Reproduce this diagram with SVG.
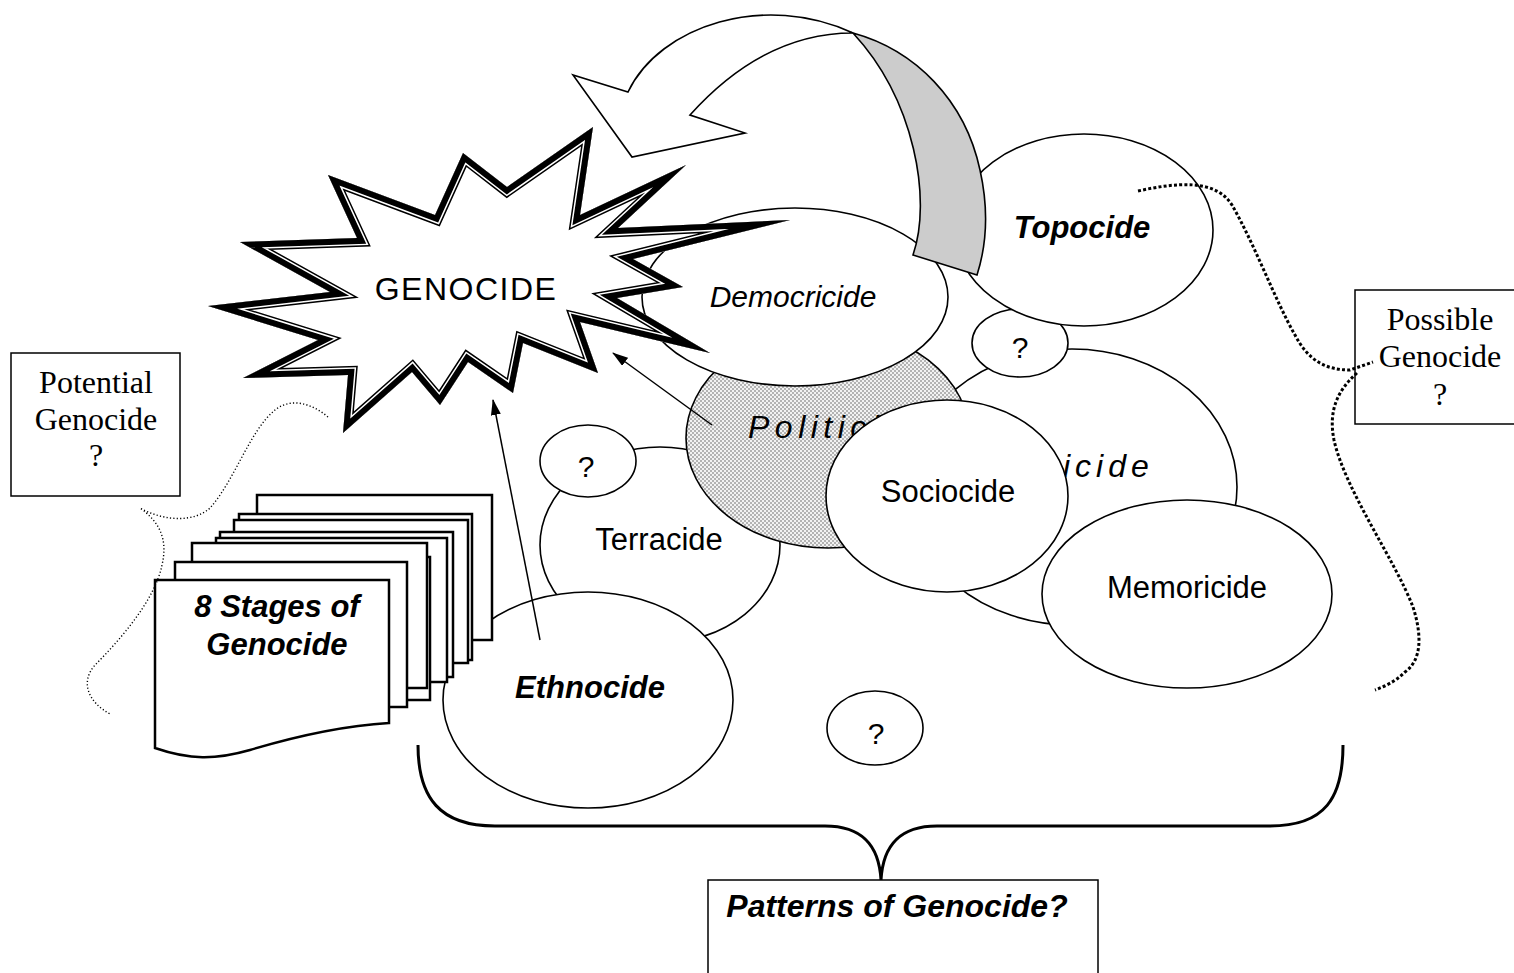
<svg xmlns="http://www.w3.org/2000/svg" width="1514" height="973" viewBox="0 0 1514 973">
<defs>
<style>
.n{fill:#fff;stroke:#000;stroke-width:1.6}
.t{font-family:"Liberation Sans",Arial,sans-serif;font-size:31px;fill:#000;text-anchor:middle}
.bi{font-weight:bold;font-style:italic}
.i{font-style:italic}
.s{font-family:"Liberation Serif","Times New Roman",serif;font-size:32px;text-anchor:middle;fill:#000}
.pg{fill:#fff;stroke:#000;stroke-width:2.5}
.box{fill:#fff;stroke:#000;stroke-width:1.5}
.c{stroke:#000;stroke-width:1.5;fill:none;marker-end:url(#ah)}
.dt{fill:none;stroke:#000}
</style>
<pattern id="dots" width="4" height="4" patternUnits="userSpaceOnUse"><rect width="4" height="4" fill="#f2f2f2"/><circle cx="1" cy="1" r="0.75" fill="#555"/><circle cx="3" cy="3" r="0.75" fill="#555"/></pattern>
<marker id="ah" markerUnits="userSpaceOnUse" markerWidth="16" markerHeight="10" refX="15" refY="5" orient="auto"><path d="M0,0 L16,5 L0,10 Z" fill="#000"/></marker>
<clipPath id="bc"><polygon points="208,306 330,292 240,242 357,238 328,175 435,215 463,153 507,187 593,127 580,215 686,165 618,228 790,220 633,259 683,287 617,298 710,353 580,322 598,373 523,343 513,393 468,362 440,405 412,372 343,433 348,375 243,378 318,340"/></clipPath>
</defs>
<rect width="1514" height="973" fill="#fff"/>

<g id="hidden-icide">
<ellipse class="n" cx="1072" cy="487" rx="165" ry="138"/>
<text class="t i" x="1063" y="477" style="text-anchor:start;font-size:32px;letter-spacing:5px">icide</text>
</g>
<g id="q-top">
<ellipse class="n" cx="1020" cy="343" rx="48" ry="34"/>
<text class="t" x="1020" y="358" style="font-size:30px">?</text>
</g>
<g id="topocide">
<ellipse class="n" cx="1084" cy="230" rx="129" ry="96"/>
<text class="t bi" x="1082" y="238">Topocide</text>
</g>
<g id="terracide">
<ellipse class="n" cx="660" cy="545" rx="120" ry="98"/>
<text class="t" x="659" y="550">Terracide</text>
</g>
<g id="q-left">
<ellipse class="n" cx="588" cy="461" rx="48" ry="36"/>
<text class="t" x="586" y="477" style="font-size:30px">?</text>
</g>
<g id="politicide">
<ellipse cx="828" cy="438" rx="142" ry="110" fill="url(#dots)" stroke="#000" stroke-width="1.6"/>
<text class="t i" x="748" y="438" style="text-anchor:start;font-size:32px;letter-spacing:5.5px">Politicide</text>
</g>
<g id="democricide">
<ellipse class="n" cx="795" cy="297" rx="153" ry="89"/>
<text class="t i" x="793" y="307" style="font-size:30px">Democricide</text>
</g>
<g id="curved-arrow">
<path d="M628,92 C660,25 765,-8 853,33 C790,33 735,65 690,115 L745,133 L632,157 L573,75 Z" fill="#fff" stroke="#000" stroke-width="1.6" stroke-linejoin="miter"/>
<path d="M853,33 C915,50 965,100 980,170 C990,215 985,250 977,275 L913,255 C932,200 915,100 853,33 Z" fill="#cccccc" stroke="#000" stroke-width="1.6"/>
</g>
<g id="sociocide">
<ellipse class="n" cx="947" cy="496" rx="121" ry="96"/>
<text class="t" x="948" y="502">Sociocide</text>
</g>
<g id="memoricide">
<ellipse class="n" cx="1187" cy="594" rx="145" ry="94"/>
<text class="t" x="1187" y="598">Memoricide</text>
</g>
<g id="ethnocide">
<ellipse class="n" cx="588" cy="700" rx="145" ry="108"/>
<text class="t bi" x="590" y="698">Ethnocide</text>
</g>
<g id="stages">
<rect class="pg" x="257" y="495" width="235" height="145"/>
<rect class="pg" x="239" y="514" width="233" height="146"/>
<rect class="pg" x="234" y="520" width="234" height="143"/>
<rect class="pg" x="220" y="532" width="233" height="145"/>
<rect class="pg" x="216" y="538" width="231" height="144"/>
<rect class="pg" x="195" y="557" width="235" height="143"/>
<rect class="pg" x="192" y="543" width="235" height="145"/>
<rect class="pg" x="175" y="562" width="232" height="145"/>
<path class="pg" d="M155,580 H389 V723 C340,726 290,738 250,750 C215,760 190,760 155,748 Z"/>
<text class="t bi" x="277" y="617">8 Stages of</text>
<text class="t bi" x="277" y="655">Genocide</text>
</g>
<g id="q-bottom">
<ellipse class="n" cx="875" cy="728" rx="48" ry="37"/>
<text class="t" x="876" y="744" style="font-size:30px">?</text>
</g>
<g id="genocide">
<polygon points="208,306 330,292 240,242 357,238 328,175 435,215 463,153 507,187 593,127 580,215 686,165 618,228 790,220 633,259 683,287 617,298 710,353 580,322 598,373 523,343 513,393 468,362 440,405 412,372 343,433 348,375 243,378 318,340" fill="#fff"/>
<g clip-path="url(#bc)" fill="none" stroke-linejoin="miter" stroke-miterlimit="20">
<polygon points="208,306 330,292 240,242 357,238 328,175 435,215 463,153 507,187 593,127 580,215 686,165 618,228 790,220 633,259 683,287 617,298 710,353 580,322 598,373 523,343 513,393 468,362 440,405 412,372 343,433 348,375 243,378 318,340" stroke="#000" stroke-width="18"/>
<polygon points="208,306 330,292 240,242 357,238 328,175 435,215 463,153 507,187 593,127 580,215 686,165 618,228 790,220 633,259 683,287 617,298 710,353 580,322 598,373 523,343 513,393 468,362 440,405 412,372 343,433 348,375 243,378 318,340" stroke="#fff" stroke-width="15"/>
<polygon points="208,306 330,292 240,242 357,238 328,175 435,215 463,153 507,187 593,127 580,215 686,165 618,228 790,220 633,259 683,287 617,298 710,353 580,322 598,373 523,343 513,393 468,362 440,405 412,372 343,433 348,375 243,378 318,340" stroke="#000" stroke-width="12"/>
</g>
<text class="t" x="466" y="300" style="font-size:32px;letter-spacing:1.5px">GENOCIDE</text>
</g>
<g id="potential">
<rect class="box" x="11" y="353" width="169" height="143"/>
<text class="s" x="96" y="393">Potential</text>
<text class="s" x="96" y="430">Genocide</text>
<text class="s" x="96" y="466">?</text>
</g>
<g id="possible">
<rect class="box" x="1355" y="290" width="170" height="134"/>
<text class="s" x="1440" y="330">Possible</text>
<text class="s" x="1440" y="367">Genocide</text>
<text class="s" x="1440" y="405">?</text>
</g>
<g id="patterns">
<rect class="box" x="708" y="880" width="390" height="110"/>
<text class="t bi" x="897" y="917" style="font-size:32px">Patterns of Genocide?</text>
</g>
<g id="connectors">
<path class="dt" d="M328,417 C310,402 290,398 275,410 C250,430 235,480 210,508 C195,522 165,522 140,508 C160,522 168,540 162,565 C155,600 120,640 95,665 C80,682 88,702 110,714" stroke-width="1.4" stroke-dasharray="1.2 2.2"/>
<path class="dt" d="M1138,191 C1175,183 1215,178 1232,205 C1255,245 1275,300 1295,335 C1308,360 1325,370 1350,370 L1373,362 M1357,373 C1338,390 1328,410 1334,440 C1345,490 1395,560 1413,607 C1422,635 1422,660 1405,672 C1395,682 1385,686 1375,690" stroke-width="3" stroke-dasharray="3 2.2"/>
<path d="M418,745 C418,798 440,826 495,826 L825,826 C862,826 879,845 881,880 C883,845 900,826 937,826 L1270,826 C1325,826 1343,798 1343,745" fill="none" stroke="#000" stroke-width="3"/>
<line class="c" x1="540" y1="640" x2="493" y2="400"/>
<line class="c" x1="712" y1="425" x2="613" y2="353"/>
</g>
</svg>
